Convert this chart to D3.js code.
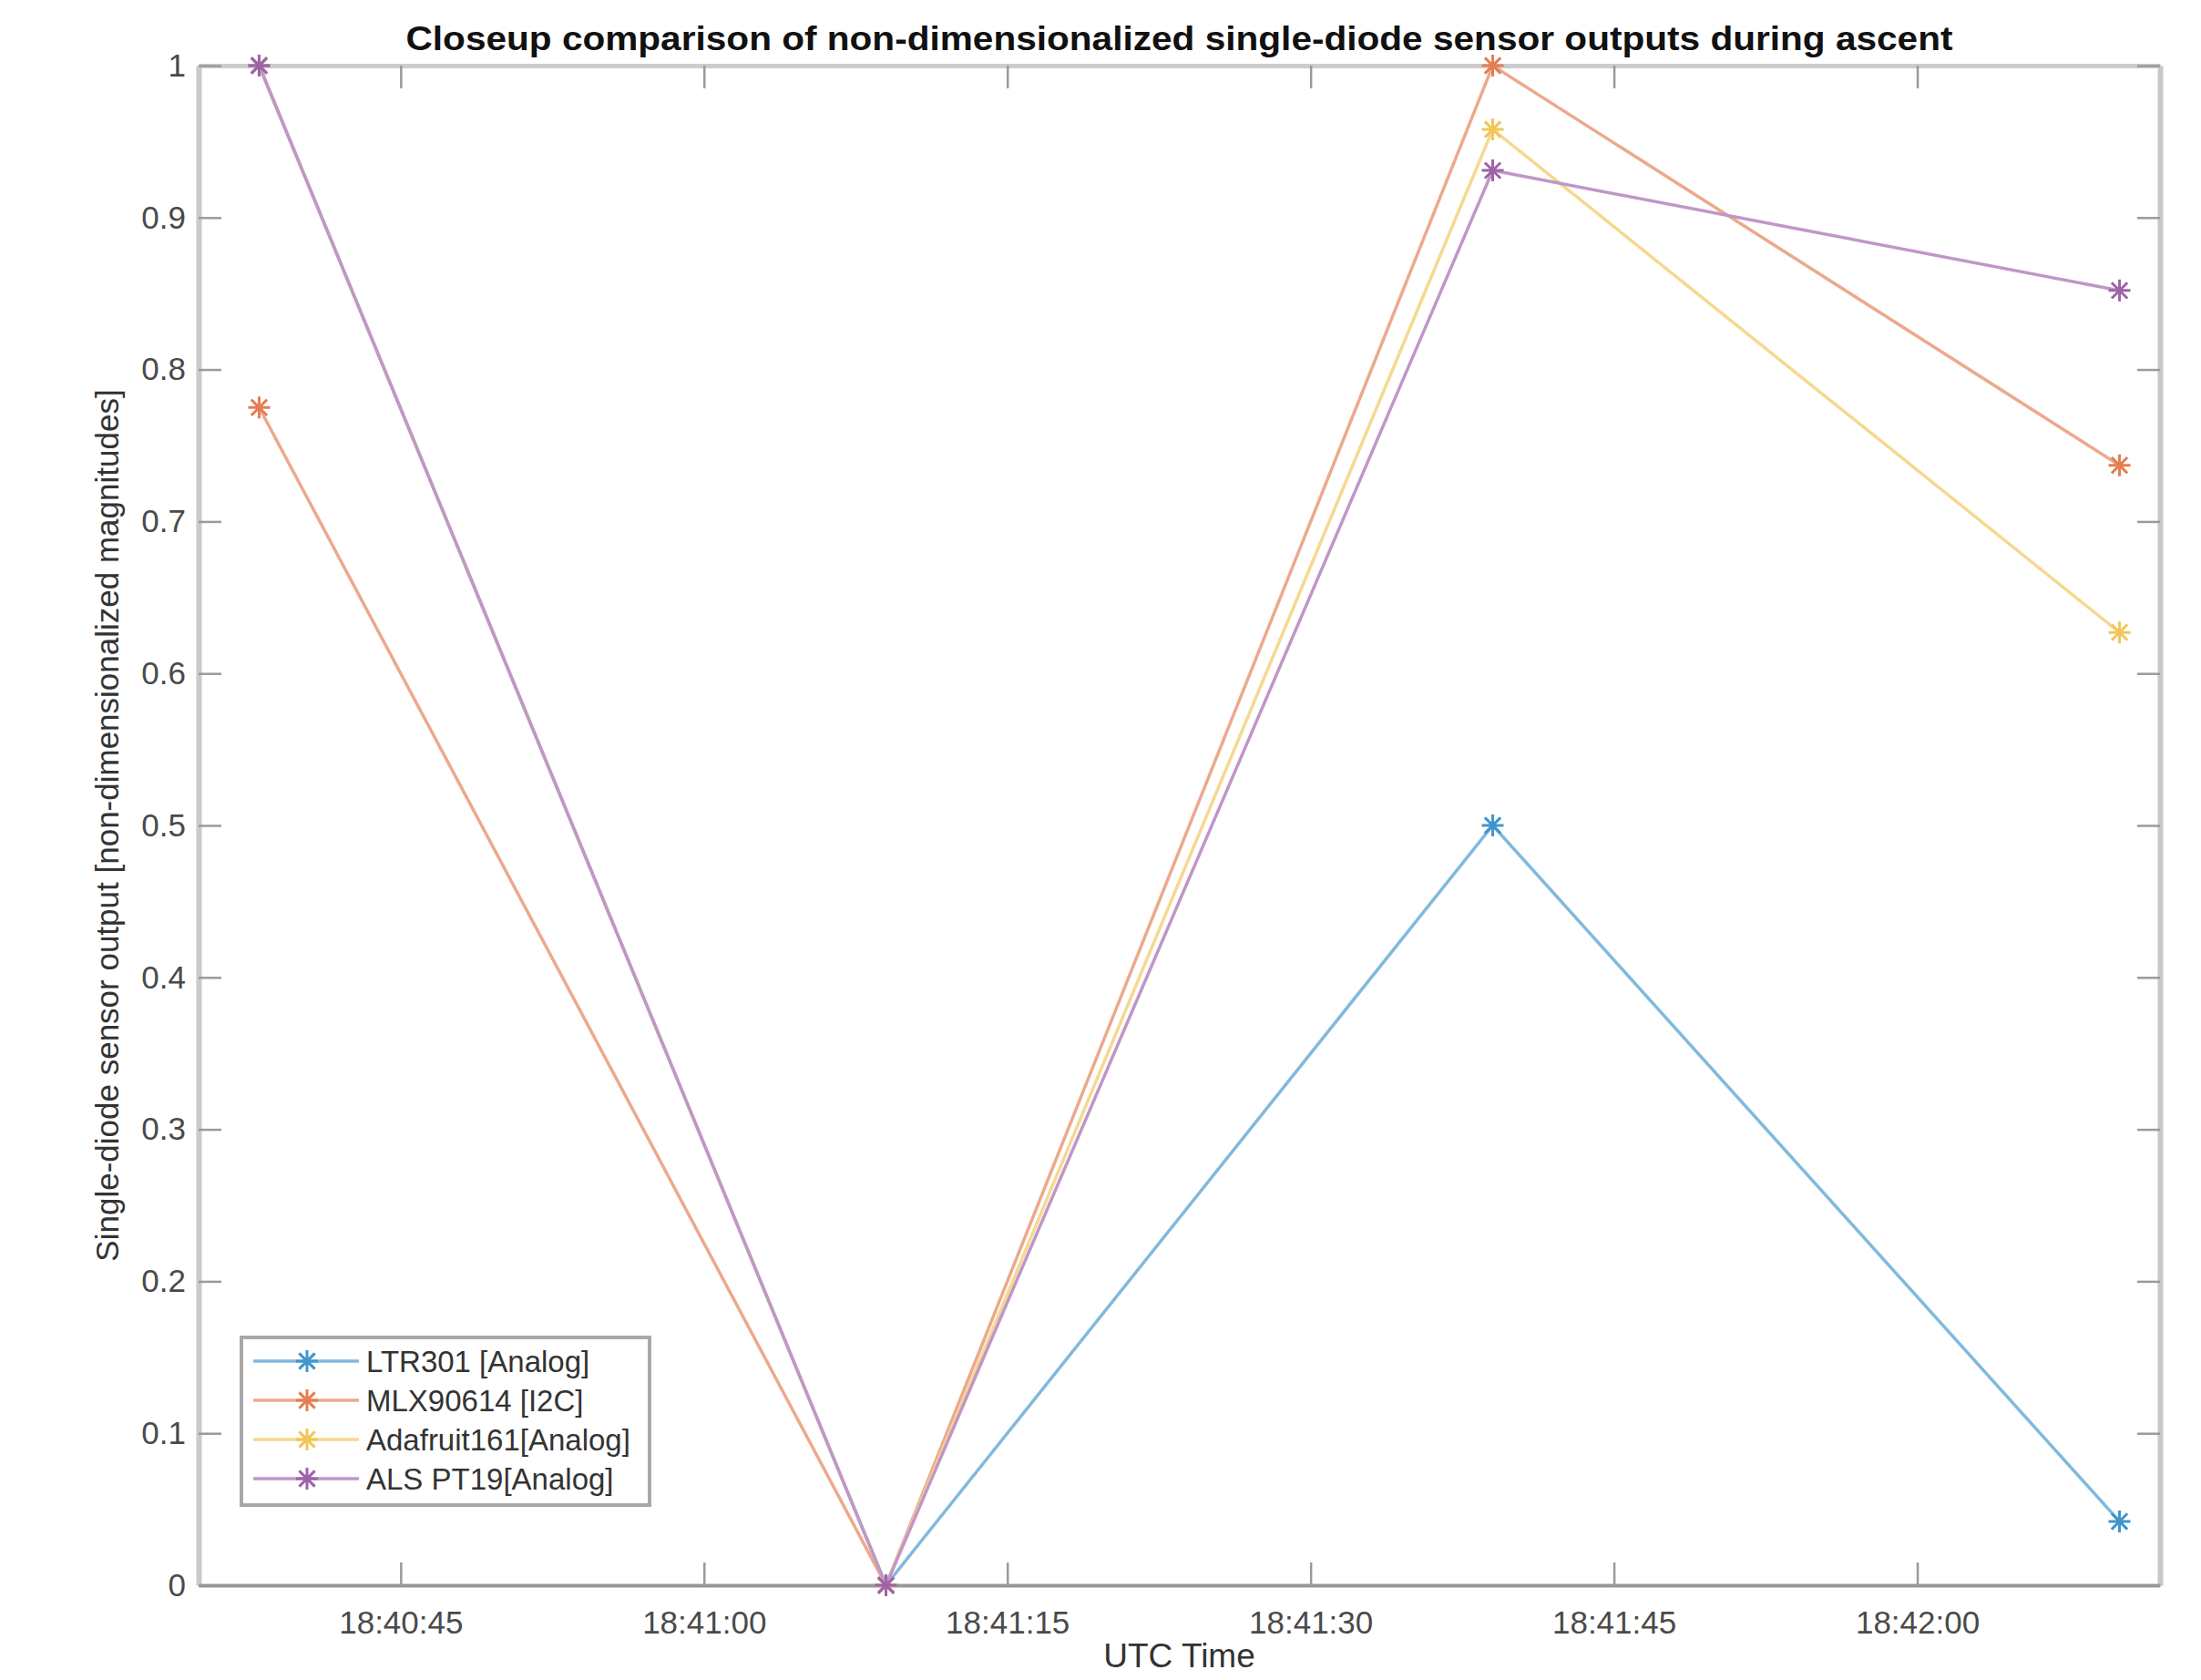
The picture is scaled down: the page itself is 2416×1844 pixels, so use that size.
<!DOCTYPE html>
<html>
<head>
<meta charset="utf-8">
<script src="https://cdn.jsdelivr.net/npm/d3@7"></script>
<style>
  body { margin: 0; background: #fff; }
  text { font-family: "Liberation Sans", Arial, sans-serif; }
</style>
</head>
<body>
<div class="d3Area"></div>
<script>
// sample times (UTC) and normalized sensor outputs
let times = ["18:40:38.0", "18:41:09.0", "18:41:39.5", "18:42:10.2"];
let ltr301 = [1, 0, 0.5, 0.042];
let mlx90614 = [0.775, 0, 1, 0.737];
let adafruit161 = [1, 0, 0.958, 0.627];
let alsPt19 = [1, 0, 0.931, 0.852];

let seriesNames = ["LTR301 [Analog]", "MLX90614 [I2C]", "Adafruit161[Analog]", "ALS PT19[Analog]"];
let xTickLabels = ["18:40:45", "18:41:00", "18:41:15", "18:41:30", "18:41:45", "18:42:00"];
let yTickValues = [0, 0.1, 0.2, 0.3, 0.4, 0.5, 0.6, 0.7, 0.8, 0.9, 1];
let xLimits = ["18:40:35.6", "18:42:12.5"];

let colors = ["#0072BD", "#D95319", "#EDB120", "#7E2F8E"];
// lines look washed out in the picture, mix toward white
let lineColors = colors.map((c) => d3.interpolateRgb(c, "#fff")(0.5));
let markColors = colors.map((c) => d3.interpolateRgb(c, "#fff")(0.25));

let parseT = d3.utcParse("%H:%M:%S.%L");
let parseTick = d3.utcParse("%H:%M:%S");
let fmt = d3.utcFormat("%H:%M:%S");

let outerWidth = 2416,
  outerHeight = 1844;
let margin = { top: 72, right: 45, bottom: 104, left: 218 };
let width = outerWidth - margin.left - margin.right,
  height = outerHeight - margin.top - margin.bottom;

let svg = d3.select(".d3Area").append("svg")
  .attr("width", outerWidth)
  .attr("height", outerHeight);
svg.append("rect").attr("width", outerWidth).attr("height", outerHeight).attr("fill", "#fff");

let g = svg.append("g").attr("transform", "translate(" + margin.left + "," + margin.top + ")");

let x = d3.scaleUtc().domain(xLimits.map(parseT)).range([0, width]);
let y = d3.scaleLinear().domain([0, 1]).range([height, 0]);

let xTicks = xTickLabels.map(parseTick);

// axes (ticks inside, mirrored on top/right)
let axisBottom = d3.axisBottom(x).tickValues(xTicks).tickFormat(fmt).tickSizeInner(-25).tickSizeOuter(0).tickPadding(28);
let axisTop = d3.axisTop(x).tickValues(xTicks).tickFormat("").tickSizeInner(-25).tickSizeOuter(0);
let axisLeft = d3.axisLeft(y).tickValues(yTickValues).tickFormat(d3.format("")).tickSizeInner(-25).tickSizeOuter(0).tickPadding(14);
let axisRight = d3.axisRight(y).tickValues(yTickValues).tickFormat("").tickSizeInner(-25).tickSizeOuter(0);

function styleAxis(sel, lineColor, lineWidth) {
  sel.select(".domain").attr("stroke", lineColor).attr("stroke-width", lineWidth);
  sel.selectAll(".tick line").attr("stroke", "#9a9a9a").attr("stroke-width", 2.5);
  sel.selectAll(".tick text").attr("fill", "#4a4a4a").style("font-size", "35px");
}

g.append("g").attr("class", "x axis top").call(axisTop).call(styleAxis, "#cdcdcd", 5);
g.append("g").attr("class", "y axis right").attr("transform", "translate(" + width + ",0)").call(axisRight).call(styleAxis, "#c8c8c8", 6);
g.append("g").attr("class", "y axis").call(axisLeft).call(styleAxis, "#cacaca", 6);
g.append("g").attr("class", "x axis").attr("transform", "translate(0," + height + ")").call(axisBottom).call(styleAxis, "#979797", 4);

// lines + star markers
let allSeries = [ltr301, mlx90614, adafruit161, alsPt19];
let tParsed = times.map(parseT);

let line = d3.line()
  .x((d, i) => x(tParsed[i]))
  .y((d) => y(d));

function starPath(s) {
  let a = s * 0.72;
  return "M" + -s + ",0H" + s + "M0," + -s + "V" + s +
    "M" + -a + "," + -a + "L" + a + "," + a +
    "M" + -a + "," + a + "L" + a + "," + -a;
}

allSeries.forEach((vals, k) => {
  g.append("path")
    .attr("d", line(vals))
    .attr("fill", "none")
    .attr("stroke", lineColors[k])
    .attr("stroke-width", 3.5);
  g.selectAll(".m" + k)
    .data(vals)
    .enter()
    .append("path")
    .attr("class", "m" + k)
    .attr("d", starPath(12))
    .attr("transform", (d, i) => "translate(" + x(tParsed[i]) + "," + y(d) + ")")
    .attr("stroke", markColors[k])
    .attr("stroke-width", 3)
    .attr("fill", "none");
});

// title and labels
svg.append("text")
  .attr("x", margin.left + width / 2)
  .attr("y", 55)
  .attr("text-anchor", "middle")
  .attr("fill", "#111")
  .attr("textLength", 1698)
  .attr("lengthAdjust", "spacingAndGlyphs")
  .style("font-size", "37px")
  .style("font-weight", "bold")
  .text("Closeup comparison of non-dimensionalized single-diode sensor outputs during ascent");

svg.append("text")
  .attr("x", margin.left + width / 2)
  .attr("y", 1830)
  .attr("text-anchor", "middle")
  .attr("fill", "#333")
  .style("font-size", "37px")
  .text("UTC Time");

svg.append("text")
  .attr("transform", "translate(130," + (margin.top + height / 2) + ") rotate(-90)")
  .attr("text-anchor", "middle")
  .attr("fill", "#333")
  .style("font-size", "35px")
  .text("Single-diode sensor output [non-dimensionalized magnitudes]");

// legend
let legend = svg.append("g").attr("transform", "translate(265,1468)");
legend.append("rect")
  .attr("width", 448)
  .attr("height", 184)
  .attr("fill", "#fff")
  .attr("stroke", "#a8a8a8")
  .attr("stroke-width", 4);

seriesNames.forEach((name, k) => {
  let ly = 26 + k * 43;
  legend.append("line")
    .attr("x1", 13).attr("x2", 129).attr("y1", ly).attr("y2", ly)
    .attr("stroke", lineColors[k]).attr("stroke-width", 3.5);
  legend.append("path")
    .attr("d", starPath(12))
    .attr("transform", "translate(72," + ly + ")")
    .attr("stroke", markColors[k]).attr("stroke-width", 3).attr("fill", "none");
  legend.append("text")
    .attr("x", 137)
    .attr("y", ly + 12)
    .attr("fill", "#333")
    .style("font-size", "33px")
    .text(name);
});
</script>
</body>
</html>
